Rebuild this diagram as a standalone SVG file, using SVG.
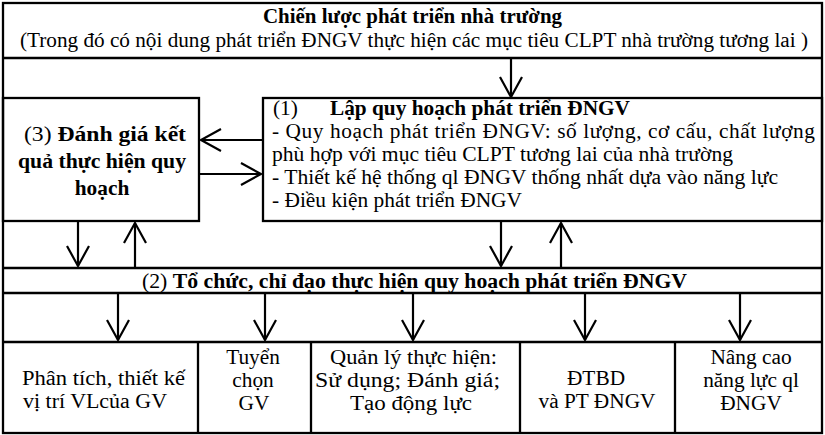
<svg xmlns="http://www.w3.org/2000/svg" width="825" height="435" viewBox="0 0 825 435">
<defs>
<style>
.t{font-family:"Liberation Serif","Times New Roman",serif;font-size:21.33px;fill:#000}
.b{font-weight:bold}
.c{text-anchor:middle}
.box{fill:none;stroke:#000;stroke-width:2.3}
.ln{stroke:#000;stroke-width:2.3;fill:none}
.con{stroke:#000;stroke-width:2.2;fill:none;marker-end:url(#ah)}
</style>
<marker id="ah" markerUnits="userSpaceOnUse" markerWidth="26" markerHeight="26" viewBox="0 0 26 26" refX="22" refY="13" orient="auto">
<path d="M2,2 L22,13 L2,24" fill="none" stroke="#000" stroke-width="2.2"/>
</marker>
</defs>
<rect width="825" height="435" fill="#fff"/>
<g id="frame">
<rect class="box" x="3" y="3" width="819" height="430"/>
</g>
<g id="strategy">
<line class="ln" x1="3" y1="58" x2="822" y2="58"/>
<text class="t b" x="263" y="23" textLength="299" lengthAdjust="spacingAndGlyphs">Chiến lược phát triển nhà trường</text>
<text class="t" x="20" y="47" textLength="788" lengthAdjust="spacingAndGlyphs">(Trong đó có nội dung phát triển ĐNGV thực hiện các mục tiêu CLPT nhà trường tương lai )</text>
</g>
<g id="evaluate">
<rect class="box" x="3" y="98" width="196" height="123"/>
<text class="t" x="24" y="141" textLength="162" lengthAdjust="spacingAndGlyphs"><tspan>(3)  </tspan><tspan class="b">Đánh giá kết</tspan></text>
<text class="t b" x="18" y="168" textLength="168" lengthAdjust="spacingAndGlyphs">quả thực hiện quy</text>
<text class="t b c" x="102" y="195">hoạch</text>
</g>
<g id="plan">
<rect class="box" x="263" y="98" width="559" height="123"/>
<text class="t" x="273" y="115">(1)</text>
<text class="t b" x="330" y="115" textLength="300" lengthAdjust="spacingAndGlyphs">Lập quy hoạch phát triển ĐNGV</text>
<text class="t" x="272" y="138" textLength="543" lengthAdjust="spacing">- Quy hoạch phát triển ĐNGV: số lượng, cơ cấu, chất lượng</text>
<text class="t" x="272" y="161" textLength="461" lengthAdjust="spacingAndGlyphs">phù hợp với mục tiêu CLPT tương lai của nhà trường</text>
<text class="t" x="272" y="184" textLength="506" lengthAdjust="spacingAndGlyphs">- Thiết kế hệ thống ql ĐNGV thống nhất dựa vào năng lực</text>
<text class="t" x="272" y="207" textLength="250" lengthAdjust="spacingAndGlyphs">- Điều kiện phát triển ĐNGV</text>
</g>
<g id="organize">
<line class="ln" x1="3" y1="268" x2="822" y2="268"/>
<line class="ln" x1="3" y1="293" x2="822" y2="293"/>
<text class="t" x="142" y="288" textLength="545" lengthAdjust="spacingAndGlyphs"><tspan>(2)  </tspan><tspan class="b">Tổ chức, chỉ đạo thực hiện quy hoạch phát triển ĐNGV</tspan></text>
</g>
<g id="bottom-row">
<line class="ln" x1="3" y1="342" x2="822" y2="342"/>
<line class="ln" x1="198" y1="342" x2="198" y2="433"/>
<line class="ln" x1="311" y1="342" x2="311" y2="433"/>
<line class="ln" x1="520" y1="342" x2="520" y2="433"/>
<line class="ln" x1="675" y1="342" x2="675" y2="433"/>
</g>
<g id="analyze">
<text class="t" x="22" y="385" textLength="163" lengthAdjust="spacingAndGlyphs">Phân tích, thiết kế</text>
<text class="t" x="23" y="408" textLength="144" lengthAdjust="spacingAndGlyphs">vị trí VLcủa GV</text>
</g>
<g id="recruit">
<text class="t c" x="253" y="364">Tuyển</text>
<text class="t c" x="253" y="387">chọn</text>
<text class="t c" x="254" y="410">GV</text>
</g>
<g id="manage">
<text class="t" x="330" y="364" textLength="167" lengthAdjust="spacingAndGlyphs">Quản lý thực hiện:</text>
<text class="t" x="315" y="387" textLength="185" lengthAdjust="spacingAndGlyphs">Sử dụng; Đánh giá;</text>
<text class="t" x="350" y="410" textLength="122" lengthAdjust="spacingAndGlyphs">Tạo động lực</text>
</g>
<g id="train">
<text class="t c" x="596" y="385">ĐTBD</text>
<text class="t c" x="597" y="408">và PT ĐNGV</text>
</g>
<g id="capacity">
<text class="t c" x="751" y="364">Nâng cao</text>
<text class="t c" x="751" y="387">năng lực ql</text>
<text class="t c" x="751" y="410">ĐNGV</text>
</g>
<g id="connectors">
<line class="con" x1="511" y1="58" x2="511" y2="97"/>
<line class="con" x1="263" y1="140" x2="201" y2="140"/>
<line class="con" x1="199" y1="174" x2="261" y2="174"/>
<line class="con" x1="78" y1="221" x2="78" y2="266"/>
<line class="con" x1="135" y1="268" x2="135" y2="223"/>
<line class="con" x1="501" y1="221" x2="501" y2="266"/>
<line class="con" x1="561" y1="268" x2="561" y2="223"/>
<line class="con" x1="118" y1="293" x2="118" y2="340"/>
<line class="con" x1="265" y1="293" x2="265" y2="340"/>
<line class="con" x1="413" y1="293" x2="413" y2="340"/>
<line class="con" x1="585" y1="293" x2="585" y2="340"/>
<line class="con" x1="740" y1="293" x2="740" y2="340"/>
</g>
</svg>
